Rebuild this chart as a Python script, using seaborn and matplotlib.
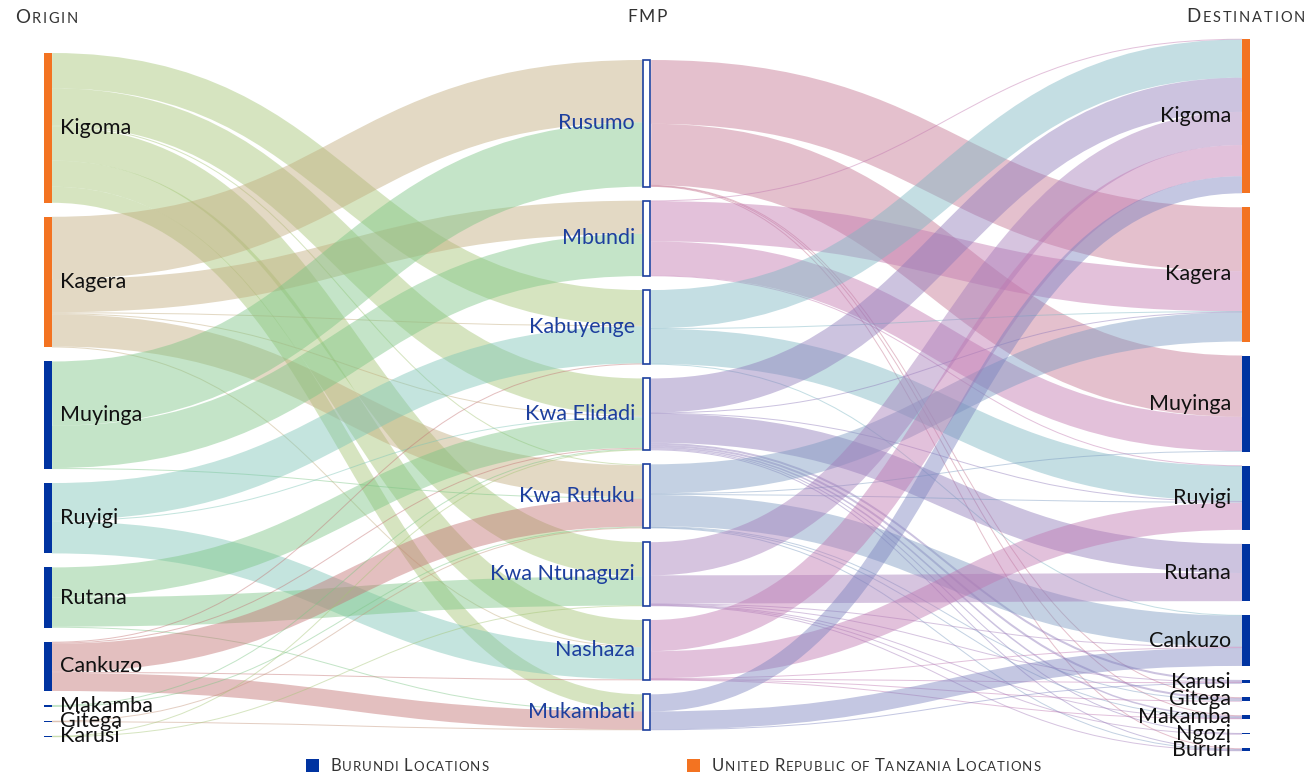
import matplotlib
matplotlib.use("Agg")
import matplotlib.pyplot as plt
from matplotlib.path import Path
from matplotlib.patches import PathPatch, Rectangle
import seaborn as sns

# ---------------- data ----------------
origins = ["Kigoma", "Kagera", "Muyinga", "Ruyigi", "Rutana", "Cankuzo",
           "Makamba", "Gitega", "Karusi"]
fmps = ["Rusumo", "Mbundi", "Kabuyenge", "Kwa Elidadi", "Kwa Rutuku",
        "Kwa Ntunaguzi", "Nashaza", "Mukambati"]
destinations = ["Kigoma", "Kagera", "Muyinga", "Ruyigi", "Rutana", "Cankuzo",
                "Karusi", "Gitega", "Makamba", "Ngozi", "Bururi"]
tanzania = ["Kigoma", "Kagera"]

origin_to_fmp = [
    ("Kigoma", "Kabuyenge", 35), ("Kigoma", "Kwa Elidadi", 37),
    ("Kigoma", "Kwa Rutuku", 1), ("Kigoma", "Kwa Ntunaguzi", 34), ("Kigoma", "Nashaza", 26),
    ("Kigoma", "Mukambati", 16),
    ("Kagera", "Rusumo", 62), ("Kagera", "Mbundi", 33), ("Kagera", "Kabuyenge", 1),
    ("Kagera", "Kwa Elidadi", 1), ("Kagera", "Kwa Rutuku", 32), ("Kagera", "Nashaza", 1),
    ("Muyinga", "Rusumo", 64), ("Muyinga", "Mbundi", 42), ("Muyinga", "Kwa Rutuku", 1),
    ("Ruyigi", "Kabuyenge", 37), ("Ruyigi", "Kwa Elidadi", 1), ("Ruyigi", "Nashaza", 32),
    ("Rutana", "Kwa Elidadi", 30), ("Rutana", "Kwa Ntunaguzi", 29), ("Rutana", "Mukambati", 1),
    ("Cankuzo", "Kabuyenge", 1), ("Cankuzo", "Kwa Elidadi", 1), ("Cankuzo", "Kwa Rutuku", 28),
    ("Cankuzo", "Nashaza", 1), ("Cankuzo", "Mukambati", 18),
    ("Makamba", "Kwa Elidadi", 1), ("Makamba", "Kwa Rutuku", 1),
    ("Gitega", "Kwa Rutuku", 0.5), ("Gitega", "Mukambati", 0.5),
    ("Karusi", "Kwa Elidadi", 0.5), ("Karusi", "Kwa Ntunaguzi", 0.5),
]

fmp_to_destination = [
    ("Rusumo", "Kagera", 63.5), ("Rusumo", "Muyinga", 61),
    ("Rusumo", "Gitega", 0.5), ("Rusumo", "Makamba", 0.5), ("Rusumo", "Bururi", 0.5),
    ("Mbundi", "Kigoma", 0.5), ("Mbundi", "Kagera", 40), ("Mbundi", "Muyinga", 34),
    ("Mbundi", "Ruyigi", 0.5),
    ("Kabuyenge", "Kigoma", 38), ("Kabuyenge", "Kagera", 0.5), ("Kabuyenge", "Ruyigi", 35),
    ("Kabuyenge", "Cankuzo", 0.5),
    ("Kwa Elidadi", "Kigoma", 34), ("Kwa Elidadi", "Kagera", 0.5), ("Kwa Elidadi", "Ruyigi", 0.5),
    ("Kwa Elidadi", "Rutana", 29), ("Kwa Elidadi", "Karusi", 2), ("Kwa Elidadi", "Gitega", 2),
    ("Kwa Elidadi", "Makamba", 1.5), ("Kwa Elidadi", "Ngozi", 1), ("Kwa Elidadi", "Bururi", 1),
    ("Kwa Rutuku", "Kagera", 29), ("Kwa Rutuku", "Muyinga", 0.5), ("Kwa Rutuku", "Ruyigi", 1),
    ("Kwa Rutuku", "Cankuzo", 31), ("Kwa Rutuku", "Gitega", 1), ("Kwa Rutuku", "Makamba", 0.5),
    ("Kwa Rutuku", "Bururi", 0.5),
    ("Kwa Ntunaguzi", "Kigoma", 33), ("Kwa Ntunaguzi", "Rutana", 28), ("Kwa Ntunaguzi", "Cankuzo", 0.5),
    ("Kwa Ntunaguzi", "Karusi", 0.5), ("Kwa Ntunaguzi", "Makamba", 0.5), ("Kwa Ntunaguzi", "Ngozi", 0.5),
    ("Kwa Ntunaguzi", "Bururi", 0.5),
    ("Nashaza", "Kigoma", 31), ("Nashaza", "Ruyigi", 27), ("Nashaza", "Cankuzo", 0.5),
    ("Nashaza", "Karusi", 0.5), ("Nashaza", "Gitega", 0.5), ("Nashaza", "Makamba", 0.5),
    ("Mukambati", "Kigoma", 17), ("Mukambati", "Cankuzo", 18), ("Mukambati", "Karusi", 0.5),
]

# ---------------- style ----------------
origin_colors = {"Kigoma": "#a4c575", "Kagera": "#c1ab7c", "Muyinga": "#7cc585",
                 "Ruyigi": "#7cc5b6", "Rutana": "#7cc585", "Cankuzo": "#c37373",
                 "Makamba": "#7cc585", "Gitega": "#c3947a", "Karusi": "#a4c575"}
fmp_colors = {"Rusumo": "#c57590", "Mbundi": "#c177af", "Kabuyenge": "#7cb6c3",
              "Kwa Elidadi": "#8e7aba", "Kwa Rutuku": "#7c9bc1", "Kwa Ntunaguzi": "#a47cba",
              "Nashaza": "#bf77b1", "Mukambati": "#7c83bf"}
ORANGE, BLUE, FMP_BLUE = "#f37321", "#0033a1", "#1d3f9e"

sns.set_theme(style="white")
plt.rcParams['font.family'] = ['Lato', 'DejaVu Sans']

W, H, DPI = 1314, 775, 100
fig = plt.figure(figsize=(W / DPI, H / DPI), dpi=DPI)
ax = fig.add_axes([0, 0, 1, 1])
ax.set_xlim(0, W)
ax.set_ylim(H, 0)
ax.axis('off')

# ---------------- sankey layout ----------------
columns = [origins, fmps, destinations]
col_x = [44, 643, 1242]
NODE_W, GAP, TOP, BOTTOM = 8, 14, 39, 751

links = [(0, s, 1, t, v) for s, t, v in origin_to_fmp] + \
        [(1, s, 2, t, v) for s, t, v in fmp_to_destination]

value = {}
for c, names in enumerate(columns):
    for n in names:
        vin = sum(l[4] for l in links if l[2] == c and l[3] == n)
        vout = sum(l[4] for l in links if l[0] == c and l[1] == n)
        value[(c, n)] = max(vin, vout)

ky = min((BOTTOM - TOP - GAP * (len(names) - 1)) / sum(value[(c, n)] for n in names)
         for c, names in enumerate(columns))
mid = (TOP + BOTTOM) / 2
y0 = {}
for c, names in enumerate(columns):
    total = sum(value[(c, n)] for n in names) * ky + GAP * (len(names) - 1)
    y = mid - total / 2
    for n in names:
        y0[(c, n)] = y
        y += value[(c, n)] * ky + GAP

src_y, tgt_y = {}, {}
for key in y0:
    out_links = sorted([i for i, l in enumerate(links) if (l[0], l[1]) == key],
                       key=lambda i: y0[(links[i][2], links[i][3])])
    off = y0[key]
    for i in out_links:
        w = links[i][4] * ky
        src_y[i] = off + w / 2
        off += w
    in_links = sorted([i for i, l in enumerate(links) if (l[2], l[3]) == key],
                      key=lambda i: y0[(links[i][0], links[i][1])])
    off = y0[key]
    for i in in_links:
        w = links[i][4] * ky
        tgt_y[i] = off + w / 2
        off += w

# links
for i, (c0, s, c1, t, v) in enumerate(links):
    x0 = col_x[c0] + NODE_W
    x1 = col_x[c1]
    xm = (x0 + x1) / 2
    path = Path([(x0, src_y[i]), (xm, src_y[i]), (xm, tgt_y[i]), (x1, tgt_y[i])],
                [Path.MOVETO, Path.CURVE4, Path.CURVE4, Path.CURVE4])
    color = origin_colors[s] if c0 == 0 else fmp_colors[s]
    lw = max(1.0, v * ky) * 72 / DPI
    ax.add_patch(PathPatch(path, facecolor='none', edgecolor=color, lw=lw,
                           alpha=0.45, capstyle='butt'))

# nodes and labels
for c, names in enumerate(columns):
    for n in names:
        h = value[(c, n)] * ky
        yc = y0[(c, n)] + h / 2
        if c == 1:
            ax.add_patch(Rectangle((col_x[c], y0[(c, n)]), NODE_W - 1, h,
                                   facecolor='white', edgecolor=FMP_BLUE, lw=1.2))
            ax.text(col_x[c] - 8, yc, n, ha='right', va='center', fontsize=15.5,
                    color=FMP_BLUE)
        else:
            ax.add_patch(Rectangle((col_x[c], y0[(c, n)]), NODE_W, max(h, 1.5),
                                   facecolor=ORANGE if n in tanzania else BLUE, lw=0))
            if c == 0:
                ax.text(col_x[c] + NODE_W + 8, yc, n, ha='left', va='center',
                        fontsize=15.5, color='#111111')
            else:
                ax.text(col_x[c] - 11, yc, n, ha='right', va='center',
                        fontsize=15.5, color='#111111')

# ---------------- small caps headers / legend ----------------
renderer = fig.canvas.get_renderer()


def small_caps(x, y, text, big, small, ha='left', color='#333333', track=1.8):
    items = []
    for ch in text:
        size = big if ch.isupper() else small
        t = ax.text(0, y, ch.upper(), fontsize=size, color=color, va='baseline', ha='left')
        wdt = t.get_window_extent(renderer).width
        items.append((t, wdt))
    total = sum(w + track for _, w in items) - track
    start = x - total if ha == 'right' else (x - total / 2 if ha == 'center' else x)
    for t, wdt in items:
        t.set_x(start)
        start += wdt + track


small_caps(15, 23, "Origin", 13.5, 10.5)
small_caps(647, 22, "FMP", 12.5, 12.5, ha='center')
small_caps(1305, 22, "Destination", 13.5, 10.5, ha='right')

ax.add_patch(Rectangle((306, 759), 13, 13, facecolor=BLUE, lw=0))
small_caps(330, 771, "Burundi Locations", 12, 9.5, track=1.0)
ax.add_patch(Rectangle((687, 759), 13, 13, facecolor=ORANGE, lw=0))
small_caps(712, 771, "United Republic of Tanzania Locations", 12, 9.5, track=1.0)

fig.savefig("out.png", dpi=DPI)
